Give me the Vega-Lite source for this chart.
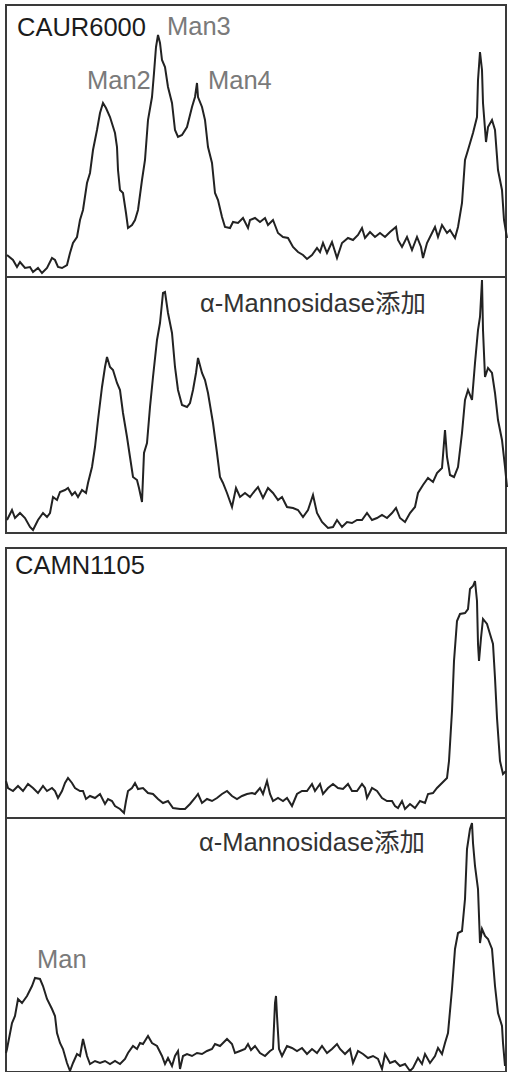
{
  "$schema": "https://vega.github.io/schema/vega-lite/v6.json",
  "padding": {"left": 1, "top": 4, "right": 0, "bottom": 0},
  "config": {
    "view": {"stroke": "#3a3a3a", "strokeWidth": 2},
    "text": {"font": "Liberation Sans, Noto Sans CJK JP", "fontSize": 25.5, "align": "left", "baseline": "alphabetic"},
    "line": {"color": "#222222", "strokeWidth": 2}
  },
  "datasets": {
    "s1": [
      {"x":7,"v":22},{"x":13,"v":17},{"x":17,"v":10},{"x":20,"v":15},{"x":25,"v":9},{"x":30,"v":10},{"x":33,"v":5},{"x":38,"v":9},{"x":42,"v":4},{"x":47,"v":9},{"x":52,"v":19},{"x":55,"v":17},{"x":58,"v":10},{"x":62,"v":9},{"x":67,"v":12},{"x":70,"v":24},{"x":73,"v":34},{"x":77,"v":40},{"x":80,"v":57},{"x":83,"v":67},{"x":87,"v":94},{"x":90,"v":104},{"x":93,"v":127},{"x":97,"v":147},{"x":100,"v":164},{"x":103,"v":174},{"x":106,"v":169},{"x":110,"v":160},{"x":115,"v":144},{"x":117,"v":130},{"x":118,"v":107},{"x":120,"v":87},{"x":123,"v":84},{"x":126,"v":64},{"x":128,"v":49},{"x":132,"v":52},{"x":135,"v":57},{"x":138,"v":67},{"x":142,"v":97},{"x":145,"v":117},{"x":148,"v":157},{"x":152,"v":180},{"x":154,"v":204},{"x":156,"v":230},{"x":158,"v":242},{"x":160,"v":234},{"x":162,"v":217},{"x":165,"v":210},{"x":168,"v":190},{"x":172,"v":174},{"x":175,"v":147},{"x":178,"v":140},{"x":182,"v":142},{"x":187,"v":150},{"x":192,"v":170},{"x":195,"v":180},{"x":197,"v":194},{"x":198,"v":180},{"x":202,"v":170},{"x":205,"v":157},{"x":208,"v":130},{"x":212,"v":114},{"x":215,"v":84},{"x":218,"v":77},{"x":222,"v":60},{"x":225,"v":50},{"x":230,"v":49},{"x":233,"v":55},{"x":238,"v":54},{"x":243,"v":59},{"x":248,"v":49},{"x":250,"v":57},{"x":255,"v":59},{"x":260,"v":55},{"x":265,"v":59},{"x":268,"v":52},{"x":273,"v":57},{"x":278,"v":44},{"x":283,"v":40},{"x":288,"v":39},{"x":293,"v":30},{"x":298,"v":25},{"x":303,"v":22},{"x":307,"v":18},{"x":312,"v":22},{"x":317,"v":29},{"x":320,"v":25},{"x":323,"v":34},{"x":327,"v":24},{"x":332,"v":35},{"x":337,"v":19},{"x":342,"v":34},{"x":348,"v":39},{"x":353,"v":37},{"x":358,"v":42},{"x":362,"v":49},{"x":365,"v":39},{"x":370,"v":45},{"x":375,"v":40},{"x":380,"v":44},{"x":385,"v":40},{"x":390,"v":45},{"x":396,"v":50},{"x":398,"v":37},{"x":402,"v":30},{"x":407,"v":40},{"x":412,"v":27},{"x":417,"v":40},{"x":421,"v":30},{"x":423,"v":19},{"x":427,"v":34},{"x":432,"v":44},{"x":435,"v":50},{"x":438,"v":40},{"x":442,"v":52},{"x":447,"v":44},{"x":450,"v":47},{"x":455,"v":39},{"x":458,"v":50},{"x":462,"v":74},{"x":465,"v":117},{"x":468,"v":127},{"x":473,"v":144},{"x":477,"v":160},{"x":478,"v":197},{"x":480,"v":225},{"x":482,"v":207},{"x":483,"v":174},{"x":486,"v":135},{"x":488,"v":150},{"x":492,"v":157},{"x":495,"v":147},{"x":498,"v":107},{"x":502,"v":87},{"x":504,"v":57},{"x":507,"v":39}
    ],
    "s2": [
      {"x":7,"v":13},{"x":12,"v":23},{"x":15,"v":15},{"x":20,"v":20},{"x":25,"v":15},{"x":30,"v":6},{"x":33,"v":3},{"x":38,"v":13},{"x":43,"v":20},{"x":47,"v":16},{"x":50,"v":20},{"x":53,"v":36},{"x":57,"v":33},{"x":60,"v":41},{"x":65,"v":43},{"x":68,"v":45},{"x":72,"v":38},{"x":75,"v":41},{"x":78,"v":36},{"x":82,"v":43},{"x":86,"v":40},{"x":88,"v":50},{"x":92,"v":66},{"x":95,"v":86},{"x":98,"v":113},{"x":102,"v":146},{"x":105,"v":166},{"x":107,"v":176},{"x":110,"v":166},{"x":113,"v":163},{"x":117,"v":150},{"x":120,"v":143},{"x":123,"v":120},{"x":127,"v":96},{"x":130,"v":76},{"x":133,"v":56},{"x":137,"v":53},{"x":139,"v":45},{"x":142,"v":31},{"x":144,"v":80},{"x":147,"v":90},{"x":150,"v":126},{"x":153,"v":156},{"x":157,"v":193},{"x":160,"v":210},{"x":163,"v":240},{"x":165,"v":241},{"x":168,"v":220},{"x":172,"v":200},{"x":175,"v":166},{"x":178,"v":143},{"x":182,"v":128},{"x":187,"v":126},{"x":190,"v":130},{"x":193,"v":143},{"x":196,"v":160},{"x":198,"v":175},{"x":202,"v":160},{"x":205,"v":153},{"x":208,"v":140},{"x":213,"v":110},{"x":217,"v":80},{"x":220,"v":56},{"x":223,"v":50},{"x":227,"v":40},{"x":232,"v":26},{"x":236,"v":45},{"x":240,"v":36},{"x":245,"v":40},{"x":250,"v":36},{"x":253,"v":40},{"x":258,"v":46},{"x":263,"v":35},{"x":268,"v":45},{"x":273,"v":40},{"x":278,"v":33},{"x":282,"v":36},{"x":287,"v":26},{"x":293,"v":25},{"x":298,"v":23},{"x":303,"v":16},{"x":308,"v":23},{"x":313,"v":38},{"x":317,"v":20},{"x":322,"v":11},{"x":328,"v":5},{"x":333,"v":6},{"x":337,"v":13},{"x":342,"v":6},{"x":347,"v":11},{"x":352,"v":10},{"x":357,"v":13},{"x":362,"v":13},{"x":367,"v":20},{"x":372,"v":13},{"x":377,"v":15},{"x":382,"v":18},{"x":387,"v":15},{"x":392,"v":20},{"x":396,"v":25},{"x":400,"v":15},{"x":405,"v":11},{"x":410,"v":20},{"x":415,"v":26},{"x":418,"v":40},{"x":423,"v":48},{"x":428,"v":55},{"x":433,"v":51},{"x":437,"v":60},{"x":442,"v":65},{"x":445,"v":103},{"x":447,"v":76},{"x":450,"v":58},{"x":454,"v":56},{"x":458,"v":66},{"x":462,"v":100},{"x":465,"v":133},{"x":468,"v":143},{"x":472,"v":133},{"x":475,"v":170},{"x":478,"v":203},{"x":480,"v":216},{"x":482,"v":253},{"x":483,"v":203},{"x":485,"v":156},{"x":488,"v":165},{"x":492,"v":160},{"x":495,"v":140},{"x":498,"v":113},{"x":502,"v":93},{"x":505,"v":66},{"x":507,"v":46}
    ],
    "s3": [
      {"x":6,"v":37},{"x":8,"v":30},{"x":13,"v":27},{"x":18,"v":32},{"x":23,"v":27},{"x":28,"v":34},{"x":33,"v":30},{"x":38,"v":25},{"x":43,"v":32},{"x":47,"v":27},{"x":52,"v":30},{"x":55,"v":27},{"x":58,"v":20},{"x":62,"v":27},{"x":65,"v":35},{"x":68,"v":40},{"x":72,"v":35},{"x":75,"v":30},{"x":80,"v":27},{"x":83,"v":27},{"x":86,"v":19},{"x":90,"v":22},{"x":95,"v":20},{"x":100,"v":24},{"x":105,"v":14},{"x":108,"v":19},{"x":112,"v":17},{"x":115,"v":12},{"x":120,"v":9},{"x":124,"v":5},{"x":126,"v":17},{"x":128,"v":27},{"x":132,"v":30},{"x":135,"v":35},{"x":138,"v":29},{"x":143,"v":30},{"x":148,"v":25},{"x":153,"v":24},{"x":158,"v":19},{"x":163,"v":15},{"x":168,"v":17},{"x":173,"v":10},{"x":180,"v":9},{"x":185,"v":9},{"x":190,"v":14},{"x":195,"v":20},{"x":198,"v":24},{"x":202,"v":15},{"x":207,"v":19},{"x":212,"v":17},{"x":217,"v":20},{"x":222,"v":24},{"x":227,"v":27},{"x":232,"v":22},{"x":237,"v":19},{"x":242,"v":22},{"x":247,"v":24},{"x":252,"v":25},{"x":255,"v":24},{"x":260,"v":30},{"x":263,"v":24},{"x":267,"v":37},{"x":270,"v":24},{"x":273,"v":17},{"x":278,"v":20},{"x":283,"v":17},{"x":287,"v":20},{"x":292,"v":12},{"x":297,"v":24},{"x":302,"v":27},{"x":307,"v":27},{"x":312,"v":34},{"x":315,"v":27},{"x":320,"v":34},{"x":323,"v":24},{"x":328,"v":30},{"x":333,"v":34},{"x":338,"v":30},{"x":343,"v":29},{"x":348,"v":34},{"x":352,"v":27},{"x":357,"v":27},{"x":362,"v":34},{"x":365,"v":30},{"x":367,"v":20},{"x":372,"v":30},{"x":377,"v":27},{"x":382,"v":20},{"x":387,"v":17},{"x":392,"v":17},{"x":395,"v":12},{"x":398,"v":10},{"x":402,"v":17},{"x":405,"v":9},{"x":410,"v":14},{"x":415,"v":10},{"x":420,"v":17},{"x":425,"v":15},{"x":428,"v":24},{"x":433,"v":25},{"x":437,"v":30},{"x":442,"v":35},{"x":447,"v":40},{"x":449,"v":57},{"x":452,"v":107},{"x":454,"v":157},{"x":457,"v":197},{"x":460,"v":204},{"x":465,"v":205},{"x":468,"v":209},{"x":470,"v":229},{"x":473,"v":232},{"x":475,"v":237},{"x":477,"v":217},{"x":478,"v":174},{"x":479,"v":157},{"x":481,"v":180},{"x":483,"v":199},{"x":487,"v":194},{"x":490,"v":184},{"x":493,"v":174},{"x":495,"v":140},{"x":497,"v":100},{"x":500,"v":57},{"x":503,"v":44},{"x":506,"v":47}
    ],
    "s4": [
      {"x":6,"v":19},{"x":7,"v":23},{"x":12,"v":49},{"x":15,"v":56},{"x":18,"v":73},{"x":22,"v":69},{"x":27,"v":76},{"x":32,"v":86},{"x":35,"v":94},{"x":40,"v":93},{"x":43,"v":86},{"x":47,"v":73},{"x":52,"v":63},{"x":55,"v":56},{"x":57,"v":39},{"x":60,"v":29},{"x":63,"v":23},{"x":67,"v":9},{"x":70,"v":1},{"x":73,"v":9},{"x":77,"v":18},{"x":80,"v":16},{"x":83,"v":33},{"x":87,"v":16},{"x":90,"v":8},{"x":95,"v":11},{"x":100,"v":9},{"x":105,"v":11},{"x":110,"v":8},{"x":115,"v":11},{"x":120,"v":8},{"x":125,"v":13},{"x":128,"v":19},{"x":133,"v":26},{"x":137,"v":23},{"x":140,"v":29},{"x":143,"v":28},{"x":148,"v":36},{"x":152,"v":29},{"x":157,"v":26},{"x":162,"v":16},{"x":165,"v":8},{"x":168,"v":14},{"x":172,"v":6},{"x":175,"v":16},{"x":178,"v":21},{"x":180,"v":3},{"x":183,"v":16},{"x":187,"v":18},{"x":192,"v":16},{"x":197,"v":19},{"x":202,"v":18},{"x":207,"v":21},{"x":212,"v":23},{"x":215,"v":28},{"x":220,"v":26},{"x":223,"v":29},{"x":227,"v":33},{"x":232,"v":28},{"x":235,"v":19},{"x":240,"v":21},{"x":245,"v":23},{"x":248,"v":28},{"x":251,"v":22},{"x":255,"v":26},{"x":260,"v":19},{"x":265,"v":16},{"x":270,"v":21},{"x":273,"v":23},{"x":275,"v":69},{"x":276,"v":76},{"x":277,"v":56},{"x":279,"v":23},{"x":282,"v":16},{"x":287,"v":26},{"x":292,"v":24},{"x":297,"v":21},{"x":302,"v":24},{"x":307,"v":18},{"x":312,"v":23},{"x":317,"v":19},{"x":322,"v":26},{"x":327,"v":19},{"x":332,"v":23},{"x":337,"v":28},{"x":340,"v":23},{"x":345,"v":18},{"x":350,"v":23},{"x":353,"v":9},{"x":358,"v":21},{"x":363,"v":18},{"x":368,"v":14},{"x":373,"v":16},{"x":378,"v":13},{"x":382,"v":3},{"x":385,"v":18},{"x":390,"v":9},{"x":395,"v":11},{"x":400,"v":6},{"x":405,"v":8},{"x":410,"v":1},{"x":413,"v":4},{"x":418,"v":14},{"x":422,"v":8},{"x":425,"v":18},{"x":430,"v":9},{"x":435,"v":16},{"x":438,"v":24},{"x":442,"v":18},{"x":445,"v":29},{"x":448,"v":39},{"x":452,"v":83},{"x":455,"v":123},{"x":458,"v":139},{"x":462,"v":141},{"x":465,"v":173},{"x":467,"v":223},{"x":470,"v":243},{"x":472,"v":249},{"x":473,"v":229},{"x":475,"v":206},{"x":478,"v":183},{"x":480,"v":129},{"x":482,"v":143},{"x":485,"v":136},{"x":488,"v":133},{"x":492,"v":123},{"x":495,"v":86},{"x":498,"v":59},{"x":502,"v":46},{"x":503,"v":29},{"x":505,"v":6}
    ],
    "labels": [
      {"panel":1,"x":17,"v":241,"label":"CAUR6000","kind":"sample"},
      {"panel":1,"x":167,"v":242,"label":"Man3","kind":"peak"},
      {"panel":1,"x":87,"v":188,"label":"Man2","kind":"peak"},
      {"panel":1,"x":208,"v":188,"label":"Man4","kind":"peak"},
      {"panel":2,"x":200,"v":221,"label":"α-Mannosidase添加","kind":"treatment"},
      {"panel":3,"x":15,"v":244,"label":"CAMN1105","kind":"sample"},
      {"panel":4,"x":199,"v":221,"label":"α-Mannosidase添加","kind":"treatment"},
      {"panel":4,"x":37,"v":104,"label":"Man","kind":"peak"}
    ]
  },
  "vconcat": [
    {
      "spacing": 0,
      "bounds": "flush",
      "vconcat": [
        {
          "width": 500, "height": 272,
          "layer": [
            {"data": {"name": "s1"}, "mark": "line",
             "encoding": {"x": {"field": "x", "type": "quantitative", "axis": null, "scale": {"domain": [6, 506], "nice": false, "zero": false}},
                          "y": {"field": "v", "type": "quantitative", "axis": null, "scale": {"domain": [0, 272], "nice": false}}}},
            {"data": {"name": "labels"}, "transform": [{"filter": "datum.panel == 1"}], "mark": "text",
             "encoding": {"x": {"field": "x", "type": "quantitative", "axis": null}, "y": {"field": "v", "type": "quantitative", "axis": null}, "text": {"field": "label"},
                          "color": {"field": "kind", "type": "nominal", "legend": null, "scale": {"domain": ["sample", "peak", "treatment"], "range": ["#1c1c1c", "#7a7a7a", "#333333"]}}}}
          ]
        },
        {
          "width": 500, "height": 256,
          "layer": [
            {"data": {"name": "s2"}, "mark": "line",
             "encoding": {"x": {"field": "x", "type": "quantitative", "axis": null, "scale": {"domain": [6, 506], "nice": false, "zero": false}},
                          "y": {"field": "v", "type": "quantitative", "axis": null, "scale": {"domain": [0, 256], "nice": false}}}},
            {"data": {"name": "labels"}, "transform": [{"filter": "datum.panel == 2"}], "mark": "text",
             "encoding": {"x": {"field": "x", "type": "quantitative", "axis": null}, "y": {"field": "v", "type": "quantitative", "axis": null}, "text": {"field": "label"},
                          "color": {"field": "kind", "type": "nominal", "legend": null, "scale": {"domain": ["sample", "peak", "treatment"], "range": ["#1c1c1c", "#7a7a7a", "#333333"]}}}}
          ]
        }
      ]
    },
    {
      "spacing": 0,
      "bounds": "flush",
      "vconcat": [
        {
          "width": 500, "height": 270,
          "layer": [
            {"data": {"name": "s3"}, "mark": "line",
             "encoding": {"x": {"field": "x", "type": "quantitative", "axis": null, "scale": {"domain": [6, 506], "nice": false, "zero": false}},
                          "y": {"field": "v", "type": "quantitative", "axis": null, "scale": {"domain": [0, 270], "nice": false}}}},
            {"data": {"name": "labels"}, "transform": [{"filter": "datum.panel == 3"}], "mark": "text",
             "encoding": {"x": {"field": "x", "type": "quantitative", "axis": null}, "y": {"field": "v", "type": "quantitative", "axis": null}, "text": {"field": "label"},
                          "color": {"field": "kind", "type": "nominal", "legend": null, "scale": {"domain": ["sample", "peak", "treatment"], "range": ["#1c1c1c", "#7a7a7a", "#333333"]}}}}
          ]
        },
        {
          "width": 500, "height": 254,
          "layer": [
            {"data": {"name": "s4"}, "mark": "line",
             "encoding": {"x": {"field": "x", "type": "quantitative", "axis": null, "scale": {"domain": [6, 506], "nice": false, "zero": false}},
                          "y": {"field": "v", "type": "quantitative", "axis": null, "scale": {"domain": [0, 254], "nice": false}}}},
            {"data": {"name": "labels"}, "transform": [{"filter": "datum.panel == 4"}], "mark": "text",
             "encoding": {"x": {"field": "x", "type": "quantitative", "axis": null}, "y": {"field": "v", "type": "quantitative", "axis": null}, "text": {"field": "label"},
                          "color": {"field": "kind", "type": "nominal", "legend": null, "scale": {"domain": ["sample", "peak", "treatment"], "range": ["#1c1c1c", "#7a7a7a", "#333333"]}}}}
          ]
        }
      ]
    }
  ],
  "spacing": 12
}
